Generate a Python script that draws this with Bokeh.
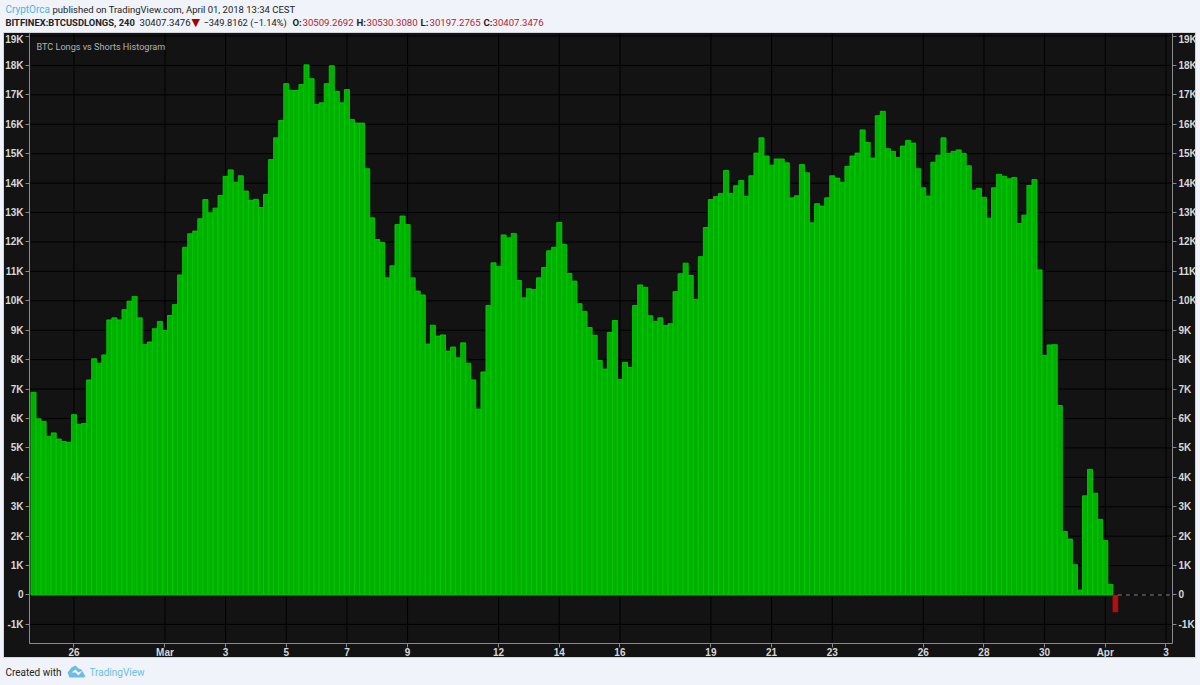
from bokeh.plotting import figure
from bokeh.layouts import column
from bokeh.models import (Range1d, LinearAxis, FixedTicker, Label, PolyAnnotation)
from bokeh.embed import file_html
from bokeh.resources import INLINE

# bar values in thousands, one per 4h bar
values = [
 6.89,5.99,5.90,5.39,5.51,5.30,5.22,5.19,6.13,5.80,5.83,7.31,8.03,7.88,8.16,9.35,9.42,9.35,9.70,9.99,
 10.15,9.42,8.51,8.60,9.05,9.30,8.99,9.50,9.87,10.88,11.82,12.28,12.37,12.79,13.44,12.99,13.15,13.58,14.23,14.45,
 14.03,14.25,13.73,13.41,13.45,13.17,13.62,14.80,15.54,16.13,17.38,17.15,17.15,17.35,18.02,17.55,16.67,16.73,17.38,17.99,
 17.12,16.73,17.18,16.16,16.04,16.04,14.49,12.82,12.08,11.98,10.78,11.19,12.59,12.88,12.59,10.78,10.33,10.20,8.53,9.17,
 8.80,8.84,8.29,8.43,8.06,8.57,7.88,7.31,6.32,7.58,9.84,11.29,11.17,12.24,12.14,12.29,10.69,10.10,10.41,10.38,
 10.78,11.13,11.70,11.82,12.66,11.91,10.93,10.67,9.90,9.64,9.09,8.83,7.97,7.68,8.92,9.33,7.33,7.91,7.74,9.84,
 10.54,10.46,9.49,9.30,9.42,9.16,9.22,10.31,10.92,11.28,10.86,10.05,11.50,12.49,13.44,13.54,13.65,14.43,13.65,13.91,
 14.09,13.55,14.25,15.02,15.54,14.92,14.61,14.82,14.82,14.69,13.50,13.57,14.63,14.35,12.65,13.30,13.22,13.50,14.25,14.17,
 14.02,14.57,14.92,15.02,15.81,15.38,14.85,16.29,16.44,15.17,15.08,14.87,15.26,15.45,15.36,14.49,13.84,13.56,14.71,14.95,
 15.54,15.01,15.08,15.13,15.01,14.59,13.76,13.82,13.52,12.81,13.84,14.30,14.23,14.15,14.19,12.63,12.91,13.92,14.12,11.05,
 8.14,8.50,8.51,6.44,2.16,1.90,1.03,0.17,3.37,4.27,3.46,2.57,1.85,0.36,-0.58]
x_ticks = [8,26,38,50,62,74,92,104,116,134,146,158,176,188,200,212,224]
x_labels = ["26","Mar","3","5","7","9","12","14","16","19","21","23","26","28","30","Apr","3"]
y_ticks = list(range(-1000,20000,1000))
y_labels = ["-1K","0"]+[f"{k}K" for k in range(1,20)]

W = 1200
PAGE="#f0f3fa"; PANEL="#131313"; TXT="#d8d8d8"; AXIS="#8a8a8a"
XMIN,XMAX,YMIN,YMAX = -0.791,225.3,-1649,19086

xs = list(range(len(values)))
ys = [v*1000 for v in values]
gx=[i for i in xs if values[i]>=0]; gy=[ys[i] for i in gx]
rx=[i for i in xs if values[i]<0]; ry=[ys[i] for i in rx]

p = figure(width=W,height=627,output_backend="svg",toolbar_location=None,
           x_range=Range1d(XMIN,XMAX),y_range=Range1d(YMIN,YMAX),
           x_axis_location=None,y_axis_location=None,frame_align=False,
           min_border_left=29,min_border_right=28,min_border_top=0,min_border_bottom=17,
           background_fill_color=None,border_fill_color=None,outline_line_color=None)

p.xgrid.visible=False; p.ygrid.visible=False
def style(ax):
    ax.axis_line_color=AXIS; ax.major_tick_line_color=AXIS; ax.minor_tick_line_color=None
    ax.major_tick_out=4; ax.major_tick_in=0
    ax.major_label_text_color=TXT; ax.major_label_text_font="Liberation Sans"
    ax.major_label_text_font_size="10px"; ax.major_label_text_font_style="bold"
    ax.major_label_standoff=2
yl=LinearAxis(ticker=FixedTicker(ticks=y_ticks),major_label_overrides=dict(zip(y_ticks,y_labels))); style(yl)
yr=LinearAxis(ticker=FixedTicker(ticks=y_ticks),major_label_overrides=dict(zip(y_ticks,y_labels))); style(yr)
xa=LinearAxis(ticker=FixedTicker(ticks=x_ticks),major_label_overrides=dict(zip(x_ticks,x_labels))); style(xa)
xa.major_label_standoff=-1
p.add_layout(yl,"left"); p.add_layout(yr,"right"); p.add_layout(xa,"below")

# grid drawn black, from the same ticks
for t in y_ticks:
    p.line([XMIN,XMAX],[t,t],line_color="#000000",line_width=1)
for t in x_ticks:
    p.line([t,t],[YMIN,YMAX],line_color="#000000",line_width=1)

p.vbar(x=gx,top=gy,bottom=0,width=1.0,fill_color="#00b000",line_color="#00cc00",line_width=0.9)
p.vbar(x=rx,top=0,bottom=ry,width=1.0,fill_color="#b30f0f",line_color="#b30f0f",line_width=0.5)
p.line([rx[0]+0.5,XMAX],[0,0],line_color="#8a8a8a",line_width=1,line_dash="4 4")

def strip(h):
    return figure(width=W,height=h,output_backend="svg",toolbar_location=None,frame_align=False,
                  x_range=Range1d(0,1),y_range=Range1d(0,1),x_axis_location=None,y_axis_location=None,
                  min_border=0,background_fill_color=None,border_fill_color=None,outline_line_color=None)
head=strip(33); foot=strip(25)
head.grid.visible=False; foot.grid.visible=False

def lab(fig,px,py,text,color="#222222",size="9.6px",font="Roboto",style="normal"):
    fig.add_layout(Label(x=px,y=py,x_units="canvas",y_units="canvas",text=text,text_color=color,
        text_font=font,text_font_size=size,text_font_style=style,text_baseline="middle",text_align="left"))

RED="#b8202a"; BLUE="#4fb4dc"
lab(head,5,9,"CryptOrca",BLUE,"10px")
lab(head,52,9,"published on TradingView.com, April 01, 2018 13:34 CEST",size="9.5px")
lab(head,5,22,"BITFINEX:BTCUSDLONGS, 240",style="bold",size="9.4px")
lab(head,139,22,"30407.3476")
lab(head,191,22,"▼","#a80000","11px","DejaVu Sans")
lab(head,203,22,"−349.8162 (−1.14%)",size="9.3px")
for px,t,vx,v in [(292,"O:",302,"30509.2692"),(356,"H:",366,"30530.3080"),(420,"L:",429,"30197.2765"),(483,"C:",492,"30407.3476")]:
    lab(head,px,22,t,style="bold")
    lab(head,vx,22,v,RED)
lab(p,36,13,"BTC Longs vs Shorts Histogram","#b4b4b4","9.1px")
lab(foot,5,12,"Created with",size="10px")
lab(foot,89,12,"TradingView","#6cbde3","10px")

# logo
foot.add_layout(PolyAnnotation(xs=[67,71,75,78,81,85,83,69],ys=[12,7,5,8,9,16,17,17],
    xs_units="canvas",ys_units="canvas",fill_color="#6cbde3",fill_alpha=1,line_color=None,level="overlay"))
foot.add_layout(PolyAnnotation(xs=[71,75,78,82,78,75],ys=[12,9,12,10,15,12],
    xs_units="canvas",ys_units="canvas",fill_color=PAGE,fill_alpha=1,line_color=None,level="overlay"))

layout=column(head,p,foot,spacing=0)
css=(f"html{{background:linear-gradient({PANEL},{PANEL}) 4px 33px/1191px 624px no-repeat,"
     f"linear-gradient(#d4d6dc,#d4d6dc) 3px 32px/1193px 626px no-repeat,{PAGE};}}"
     "body{background:transparent;}")
html=file_html(layout,INLINE)
html=html.replace("</head>",f"<style>{css}</style></head>",1)
open("out.html","w").write(html)
